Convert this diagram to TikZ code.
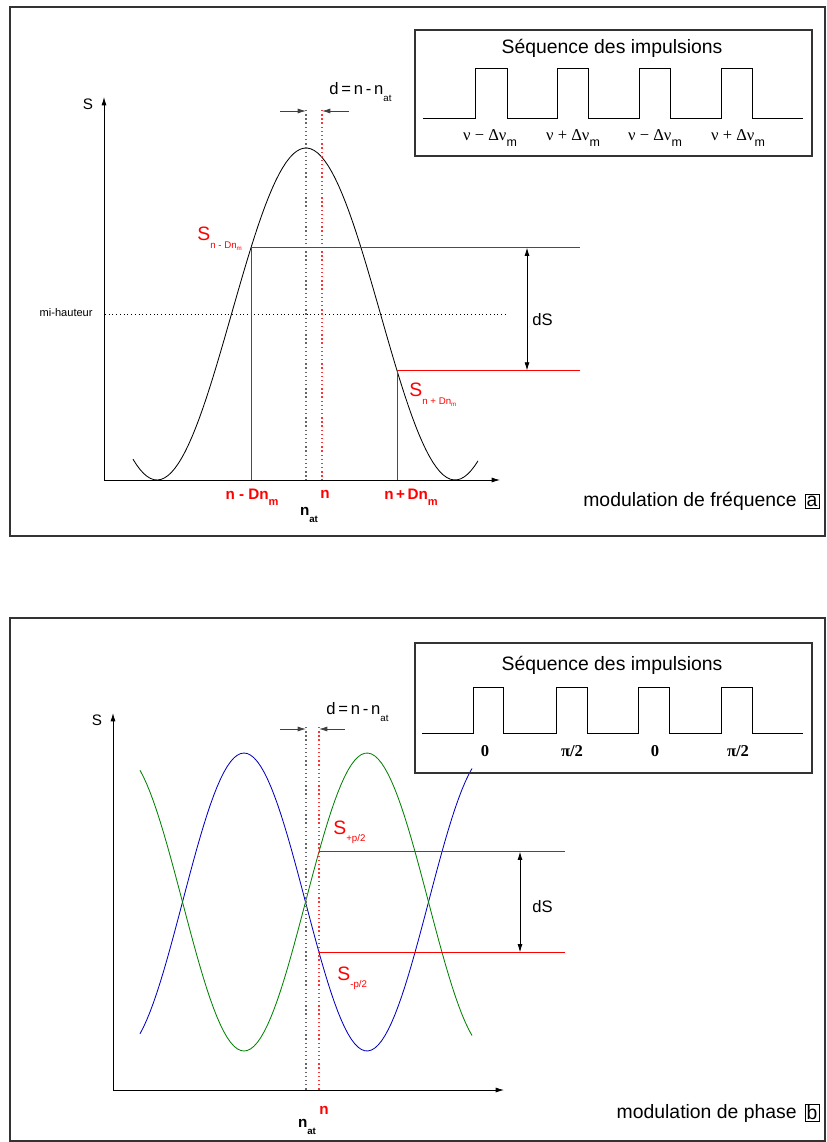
\documentclass[tikz,border=0pt]{standalone}
\usepackage{fontspec}
\setmainfont{Liberation Sans}
\newfontfamily\serif{Liberation Serif}
\usetikzlibrary{arrows.meta}
\newcommand\fs[1]{\fontsize{#1}{#1}\selectfont}
\newcommand\nulab[1]{{\serif\fs{12}ν #1 Δν}\raisebox{-0.8ex}{\fs{9}m}}
\newcommand\sublab[2]{S\raisebox{-0.7ex}{\fs{7}#1\raisebox{-0.4ex}{\fs{4.5}#2}}}

\begin{document}
\begin{tikzpicture}[x=0.254mm,y=-0.254mm,line width=0.6pt,
    every node/.style={inner sep=0pt},
    lbl/.style={font=\fs{11}},
    redlbl/.style={font=\fs{11}\bfseries,text=red},
    biglbl/.style={font=\fs{14}},
    tip/.style={-{Latex[length=6pt,width=3.6pt]}},
    dtip/.style={{Latex[length=6pt,width=3.6pt]}-{Latex[length=6pt,width=3.6pt]}},
    dots/.style={dotted,line width=1pt},
    level/.style={red,line width=0.6pt},
    frame/.style={draw=black!80,line width=0.8pt}]
  \useasboundingbox (0,0) rectangle (826,1142);

  % ---- panel a : modulation de frequence
  \draw[frame] (10,7) rectangle (825,536);
  \coordinate (Oa) at (104,480);
  \coordinate (Ya) at (104,97);
  \coordinate (Xa) at (500,480);
  \draw[tip] (Oa) -- (Ya);
  \draw[tip] (Oa) -- (Xa);
  \node[lbl] (Sa) at (88,104) {S};

  \draw plot[domain=133:478,samples=100] (\x,{314-166*cos((\x-306)/298*360)});
  \pgfmathsetmacro\yup{314-166*cos(55/298*360)}
  \pgfmathsetmacro\ylo{314-166*cos(91/298*360)}

  % mi-hauteur
  \coordinate (Ma) at (105,314);
  \coordinate (Mb) at (505,314);
  \draw[dots,line width=0.7pt] (Ma) -- (Mb);
  \node[font=\fs{8},anchor=east] (mh) at (93,313) {mi-hauteur};

  % atomic line and interrogation
  \coordinate (Ta) at (306,110);
  \coordinate (Tb) at (306,480);
  \coordinate (Na) at (322,110);
  \coordinate (Nb) at (322,480);
  \draw[dots,black!60] (Ta) -- (Tb);
  \draw[dots,red!80] (Na) -- (Nb);
  \coordinate (La) at (280,111);
  \coordinate (Lb) at (349,111);
  \draw[tip,black!75] (La) -- (Ta |- La);
  \draw[tip,black!75] (Lb) -- (Na |- Lb);
  \node[lbl,font=\fs{12},anchor=west] (da) at (329,92) {d\,=\,n\,-\,n\raisebox{-0.8ex}{\fs{7}at}};

  % signal levels
  \coordinate (P1) at (251,\yup);
  \coordinate (P2) at (397,\ylo);
  \coordinate (Q1) at (580,\yup);
  \coordinate (Q2) at (580,\ylo);
  \draw[level] (Q1) -- (P1);
  \draw[level] (P1) -- (P1 |- Oa);
  \draw[level] (Q2) -- (P2);
  \draw[level] (P2) -- (P2 |- Oa);
  \draw[dtip] (527,\yup) -- (527,\ylo);
  \node[lbl,font=\fs{12},anchor=west] (dSa) at (532,320) {dS};
  \node[biglbl,text=red,anchor=base west] (Sm) at (197,241) {\sublab{n - Dn}{m}};
  \node[biglbl,text=red,anchor=base west] (Sp) at (409,397) {\sublab{n + Dn}{m}};

  % abscissa labels
  \node[redlbl] (xm) at (252,497) {n - Dn\raisebox{-0.8ex}{\fs{8}m}};
  \node[redlbl] (xn) at (325,494) {n};
  \node[redlbl] (xp) at (411,497) {n\,+\,Dn\raisebox{-0.8ex}{\fs{8}m}};
  \node[lbl,font=\fs{11}\bfseries] (xat) at (309,515) {n\raisebox{-0.8ex}{\fs{7}at}};

  % pulse sequence
  \draw[frame] (415,30) rectangle (812,156);
  \node[biglbl] (ta) at (612,48) {Séquence des impulsions};
  \draw (423,118) foreach \r/\f in {475/507,557/588,639/670,721/752}
    { -- (\r,118) -- (\r,68) -- (\f,68) -- (\f,118) } -- (803,118);
  \node (pa1) at (490,138) {\nulab{−}};
  \node (pa2) at (573,138) {\nulab{+}};
  \node (pa3) at (655,138) {\nulab{−}};
  \node (pa4) at (738,138) {\nulab{+}};

  \node[biglbl,anchor=east] (moda) at (797,501) {modulation de fréquence};
  \node[draw,biglbl,inner sep=1.2pt] (taga) at (812,501) {a};

  % ---- panel b : modulation de phase
  \draw[frame] (10,618) rectangle (825,1141);
  \coordinate (Ob) at (113,1090);
  \coordinate (Yb) at (113,713);
  \coordinate (Xb) at (504,1090);
  \draw[tip] (Ob) -- (Yb);
  \draw[tip] (Ob) -- (Xb);
  \node[lbl] (Sb) at (97,720) {S};

  \draw[blue!75!black] plot[domain=140:472,samples=100] (\x,{902-149*cos((\x-244)/246*360)});
  \draw[green!50!black] plot[domain=140:472,samples=100] (\x,{902+149*cos((\x-244)/246*360)});
  \pgfmathsetmacro\yplus{902+149*cos(75/246*360)}
  \pgfmathsetmacro\yminus{902-149*cos(75/246*360)}

  \coordinate (Tc) at (306,727);
  \coordinate (Td) at (306,1090);
  \coordinate (Nc) at (319,727);
  \coordinate (Nd) at (319,1090);
  \draw[dots,black!60] (Tc) -- (Td);
  \draw[dots,red!80] (Nc) -- (Nd);
  \coordinate (Lc) at (280,729);
  \coordinate (Ld) at (345,729);
  \draw[tip,black!75] (Lc) -- (Tc |- Lc);
  \draw[tip,black!75] (Ld) -- (Nc |- Ld);
  \node[lbl,font=\fs{12},anchor=west] (db) at (326,712) {d\,=\,n\,-\,n\raisebox{-0.8ex}{\fs{7}at}};

  \coordinate (P3) at (319,\yplus);
  \coordinate (P4) at (319,\yminus);
  \coordinate (Q3) at (565,\yplus);
  \coordinate (Q4) at (565,\yminus);
  \draw[level] (P3) -- (Q3);
  \draw[level] (P4) -- (Q4);
  \draw[dtip] (520,\yplus) -- (520,\yminus);
  \node[lbl,font=\fs{12},anchor=west] (dSb) at (532,907) {dS};
  \node[biglbl,text=red,anchor=base west] (Spl) at (333,834) {\sublab{+p/2}{}};
  \node[biglbl,text=red,anchor=base west] (Smi) at (337,980) {\sublab{-p/2}{}};

  \node[redlbl] (xnb) at (324,1110) {n};
  \node[lbl,font=\fs{11}\bfseries] (xatb) at (307,1127) {n\raisebox{-0.8ex}{\fs{7}at}};

  \draw[frame] (415,643) rectangle (812,773);
  \node[biglbl] (tb) at (612,665) {Séquence des impulsions};
  \draw (422,733) foreach \r/\f in {473/503,556/587,638/669,721/752}
    { -- (\r,733) -- (\r,687) -- (\f,687) -- (\f,733) } -- (803,733);
  \foreach \px/\txt [count=\i] in {485/0,572/{π/2},655/0,738/{π/2}}
    \node[font=\serif\fs{12}\bfseries] (pb\i) at (\px,751) {\txt};

  \node[biglbl,anchor=east] (modb) at (797,1113) {modulation de phase};
  \node[draw,biglbl,inner sep=1.2pt] (tagb) at (812,1113) {b};
\end{tikzpicture}
\end{document}
